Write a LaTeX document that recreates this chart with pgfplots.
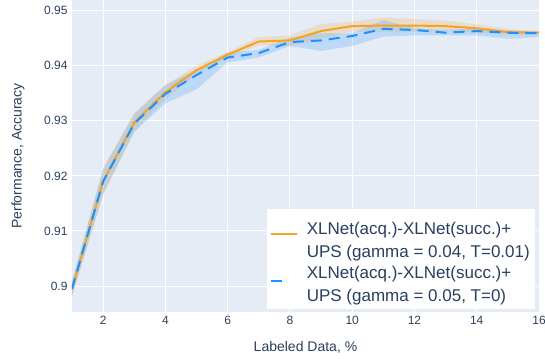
\documentclass[border=0pt]{standalone}
\usepackage{pgfplots}
\pgfplotsset{compat=1.18}
\usepackage{fontspec}
\setmainfont{Liberation Sans}
\definecolor{bg}{HTML}{E5ECF6}
\definecolor{tick}{HTML}{2A3F5F}
\definecolor{lorange}{HTML}{F5A225}
\definecolor{lblue}{HTML}{1E90FF}
\begin{document}
\begin{tikzpicture}
\begin{axis}[
  scale only axis, width=467pt, height=312pt,
  xmin=1, xmax=16, ymin=0.89528, ymax=0.95194,
  axis background/.style={fill=bg},
  axis line style={draw=none},
  major tick length=0pt,
  grid=major, grid style={white, line width=1pt},
  xtick={2,4,...,16}, ytick={0.9,0.91,0.92,0.93,0.94,0.95},
  yticklabels={0.9,0.91,0.92,0.93,0.94,0.95},
  /pgf/number format/assume math mode=true,
  ticklabel style={font=\fontsize{12}{14}\selectfont, text=tick},
  yticklabel style={xshift=-1pt},
  xticklabel style={yshift=-1pt},
  xlabel={Labeled Data, \%}, ylabel={Performance, Accuracy},
  every axis x label/.style={at={(axis description cs:0.5,-0.112)}, anchor=center, font=\fontsize{14}{16}\selectfont, text=tick},
  every axis y label/.style={at={(axis description cs:-0.1156,0.5)}, anchor=center, rotate=90, font=\fontsize{14}{16}\selectfont, text=tick},
  legend style={at={(0.9914,0.0096)}, anchor=south east, draw=none, fill=white,
    font=\fontsize{17}{23}\selectfont, text=tick, nodes={align=left},
    inner xsep=3pt, inner ysep=4pt, row sep=3pt},
  legend cell align=left,
  legend image code/.code={\draw[#1] (0pt,3pt) -- (26pt,3pt); \path (0pt,3pt) (33pt,3pt);},
  clip=true,
]
% orange band
\addplot[draw=none, fill=lorange, fill opacity=0.2, forget plot] coordinates {
(1,0.9010)(2,0.9215)(3,0.9315)(4,0.9365)(5,0.9400)(6,0.9425)(7,0.9452)(8,0.9455)
(9,0.9476)(10,0.9480)(11,0.9488)(12,0.9485)(13,0.9482)(14,0.9475)(15,0.9467)(16,0.9463)
(16,0.9457)(15,0.9457)(14,0.9460)(13,0.9463)(12,0.9462)(11,0.9462)(10,0.9462)(9,0.9450)
(8,0.9436)(7,0.9437)(6,0.9415)(5,0.9385)(4,0.9340)(3,0.9280)(2,0.9165)(1,0.8980)} --cycle;
% blue band
\addplot[draw=none, fill=lblue, fill opacity=0.2, forget plot] coordinates {
(1,0.9008)(2,0.9212)(3,0.9312)(4,0.9365)(5,0.9393)(6,0.9424)(7,0.9429)(8,0.9451)
(9,0.9459)(10,0.9459)(11,0.9483)(12,0.9468)(13,0.9465)(14,0.9468)(15,0.9464)(16,0.9462)
(16,0.9452)(15,0.9449)(14,0.9455)(13,0.9455)(12,0.9455)(11,0.9453)(10,0.9436)(9,0.9427)
(8,0.9436)(7,0.9415)(6,0.9406)(5,0.9357)(4,0.9332)(3,0.9280)(2,0.9168)(1,0.8982)} --cycle;
\addplot[lorange, line width=2pt] coordinates {
(1,0.8995)(2,0.9190)(3,0.9297)(4,0.9352)(5,0.9392)(6,0.9420)(7,0.9444)(8,0.9446)
(9,0.9463)(10,0.9472)(11,0.9473)(12,0.9473)(13,0.9472)(14,0.9468)(15,0.9461)(16,0.9460)};
\addlegendentry{\rule{0pt}{19pt}XLNet(acq.)-XLNet(succ.)+\\UPS (gamma = 0.04, T=0.01)}
\addplot[lblue, line width=2pt, dash pattern=on 11pt off 7pt,
  legend image code/.code={\draw[lblue, line width=2pt] (0pt,3pt) -- (13pt,3pt); \path (0pt,3pt) (33pt,3pt);}] coordinates {
(1,0.8995)(2,0.9190)(3,0.9295)(4,0.9349)(5,0.9383)(6,0.9415)(7,0.9423)(8,0.9443)
(9,0.9446)(10,0.9454)(11,0.9467)(12,0.9465)(13,0.9460)(14,0.9463)(15,0.9460)(16,0.9459)};
\addlegendentry{XLNet(acq.)-XLNet(succ.)+\\UPS (gamma = 0.05, T=0)}
\end{axis}
\pgfresetboundingbox
\useasboundingbox ([shift={(-72pt,-46pt)}]current axis.south west) rectangle ([shift={(6pt,0pt)}]current axis.north east);
\end{tikzpicture}
\end{document}
